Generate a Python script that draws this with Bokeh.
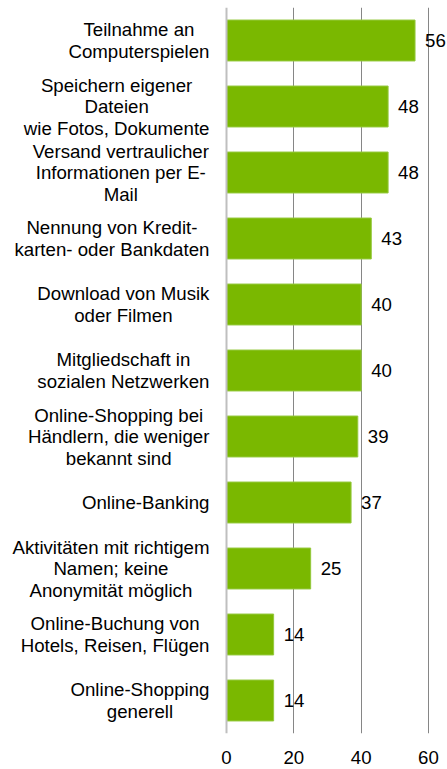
from bokeh.plotting import figure
from bokeh.models import FactorRange, Range1d, ColumnDataSource, LabelSet, FixedTicker, Span
from bokeh.core.properties import value
from bokeh.embed import file_html
from bokeh.resources import INLINE

categories = [
    "Teilnahme an\nComputerspielen",
    "Speichern eigener\nDateien\nwie Fotos, Dokumente",
    "Versand vertraulicher\nInformationen per E-\nMail",
    "Nennung von Kredit-\nkarten- oder Bankdaten",
    "Download von Musik\noder Filmen",
    "Mitgliedschaft in\nsozialen Netzwerken",
    "Online-Shopping bei\nHändlern, die weniger\nbekannt sind",
    "Online-Banking",
    "Aktivitäten mit richtigem\nNamen; keine\nAnonymität möglich",
    "Online-Buchung von\nHotels, Reisen, Flügen",
    "Online-Shopping\ngenerell",
]
values = [56, 48, 48, 43, 40, 40, 39, 37, 25, 14, 14]
x_ticks = [0, 20, 40, 60]

FONT = "Liberation Sans"
FS = 18.67
FSS = "18.67px"
LH = 21.5
STANDOFF = 17

W, H = 447, 769
ZERO_PX = 226          # pixel position of value 0
SIXTY_PX = 428         # pixel position of value 60
ppu = (SIXTY_PX - ZERO_PX) / 60.0

# Arial / Liberation Sans advance widths (1/1000 em) to right-align centred label blocks
_W = {" ": 278, ",": 278, "-": 333, ";": 278, ".": 278,
      "a": 556, "b": 556, "c": 500, "d": 556, "e": 556, "f": 278, "g": 556, "h": 556,
      "i": 222, "j": 222, "k": 500, "l": 222, "m": 833, "n": 556, "o": 556, "p": 556,
      "q": 556, "r": 333, "s": 500, "t": 278, "u": 556, "v": 500, "w": 722, "x": 500,
      "y": 500, "z": 500, "ä": 556, "ö": 556, "ü": 556,
      "A": 667, "B": 667, "C": 722, "D": 722, "E": 667, "F": 611, "G": 778, "H": 722,
      "I": 278, "J": 500, "K": 667, "L": 556, "M": 833, "N": 722, "O": 778, "P": 667,
      "Q": 778, "R": 722, "S": 667, "T": 611, "U": 722, "V": 667, "W": 944, "X": 667,
      "Y": 667, "Z": 611}


def line_width(line):
    return sum(_W.get(c, 556) for c in line) * FS / 1000.0


# one row per text line; lines centred within each right-aligned block
l_cat, l_txt, l_xo, l_yo = [], [], [], []
for c in categories:
    lines = c.split("\n")
    bw = max(line_width(t) for t in lines)
    n = len(lines)
    for i, t in enumerate(lines):
        l_cat.append(c)
        l_txt.append(t)
        l_xo.append(-(STANDOFF + bw / 2.0))
        l_yo.append(((n - 1) / 2.0 - i) * LH)

src = ColumnDataSource(dict(cat=categories, val=values, lab=[str(v) for v in values]))
line_src = ColumnDataSource(dict(cat=l_cat, txt=l_txt, zero=[0] * len(l_cat), xo=l_xo, yo=l_yo))

p = figure(
    width=W, height=H,
    y_range=FactorRange(factors=list(reversed(categories)), range_padding=0),
    x_range=Range1d(-ZERO_PX / ppu, (W - ZERO_PX) / ppu),
    output_backend="svg", toolbar_location=None,
    min_border_left=0, min_border_right=0, min_border_top=7, min_border_bottom=36,
)
p.outline_line_color = None
p.background_fill_color = "white"

p.hbar(y="cat", right="val", left=0, height=0.62, source=src,
       fill_color="#7AB800", line_color="#94C83C", line_width=1)

p.add_layout(Span(location=0, dimension="height", line_color="#BFBFBF", line_width=2))

labels = LabelSet(x="val", y="cat", text="lab", source=src, x_offset=10,
                  text_baseline="middle", text_align="left",
                  text_font=value(FONT), text_font_size=FSS, text_color="#000000")
p.add_layout(labels)

cat_labels = LabelSet(x="zero", y="cat", text="txt", source=line_src,
                      x_offset="xo", y_offset="yo",
                      text_baseline="middle", text_align="center",
                      text_font=value(FONT), text_font_size=FSS, text_color="#000000")
p.add_layout(cat_labels)

# x axis
p.xaxis.ticker = FixedTicker(ticks=x_ticks)
p.xaxis.axis_line_color = None
p.xaxis.major_tick_line_color = None
p.xaxis.minor_tick_line_color = None
p.xaxis.major_label_text_font = FONT
p.xaxis.major_label_text_font_size = FSS
p.xaxis.major_label_text_color = "#000000"
p.xaxis.major_label_standoff = 11

p.xgrid.ticker = FixedTicker(ticks=[20, 40, 60])
p.xgrid.grid_line_color = "#868686"
p.xgrid.grid_line_width = 1
p.ygrid.grid_line_color = None

p.yaxis.visible = False

open("out.html", "w").write(file_html(p, INLINE))
